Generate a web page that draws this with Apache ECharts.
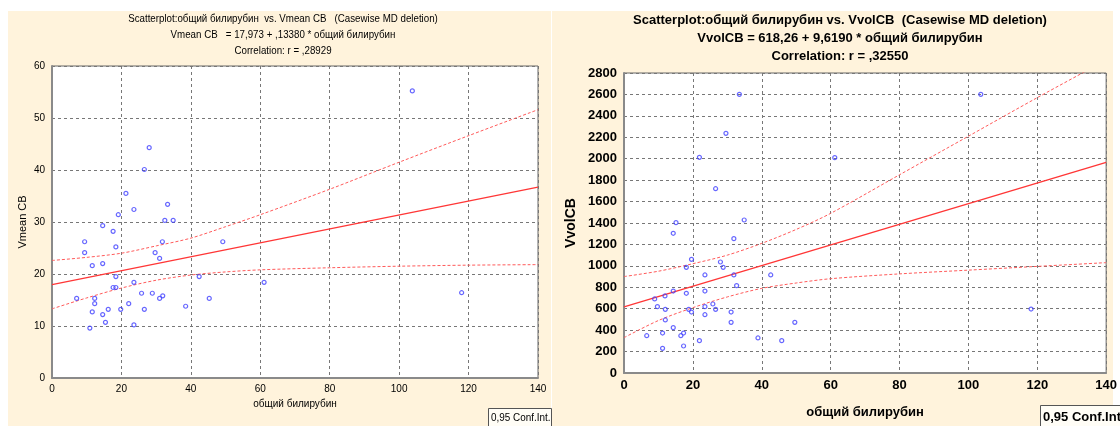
<!DOCTYPE html>
<html>
<head>
<meta charset="utf-8">
<title>Scatterplot общий билирубин</title>
<script src="https://cdn.jsdelivr.net/npm/echarts@6/dist/echarts.min.js"></script>
<style>
    html, body { margin: 0; padding: 0; background: #ffffff; }
    #main { width: 1120px; height: 426px; }
</style>
</head>
<body>
<div id="main"></div>
<script>
// общий билирубин vs Vmean CB (left picture)
var leftX = [28.0, 26.6, 21.3, 23.6, 33.3, 19.1, 32.5, 34.9, 14.6, 17.6, 9.4, 49.2, 31.8, 18.4, 9.4,
    29.7, 31.0, 11.6, 14.6, 18.4, 42.4, 23.6, 61.1, 17.6, 18.4, 7.1, 12.3, 25.8, 28.9, 31.0,
    31.9, 45.3, 12.3, 22.1, 38.5, 11.6, 16.2, 19.8, 26.6, 14.6, 15.4, 23.6, 10.9, 103.8, 118.0];
var leftY = [44.3, 40.1, 35.5, 32.4, 33.4, 31.4, 30.3, 30.3, 29.3, 28.2, 26.2, 26.2, 26.2, 25.2, 24.1,
    24.1, 23.0, 21.6, 22.0, 19.5, 19.5, 18.4, 18.4, 17.4, 17.4, 15.3, 15.3, 16.3, 16.3, 15.3,
    15.8, 15.3, 14.3, 14.3, 13.8, 12.7, 13.2, 13.2, 13.2, 12.2, 10.7, 10.2, 9.6, 55.2, 16.4];

// общий билирубин vs VvolCB (right picture)
var rightX = [33.5, 29.6, 21.9, 26.6, 34.9, 15.1, 14.3, 31.9, 19.6, 28.0, 18.1, 28.8, 23.5, 31.9, 42.6,
    32.7, 14.3, 23.5, 18.1, 11.9, 8.9, 25.8, 9.7, 23.5, 12.0, 18.8, 26.6, 19.6, 31.1, 23.5,
    12.0, 31.1, 49.6, 14.3, 11.2, 17.3, 6.6, 16.5, 38.9, 21.9, 45.8, 17.3, 11.2, 61.2, 103.6, 118.2];
var rightY = [2601, 2237, 2013, 1720, 1428, 1403, 1304, 1254, 1061, 1036, 986, 986, 915, 915, 915,
    815, 765, 765, 744, 719, 691, 644, 619, 619, 594, 594, 594, 569, 569, 544,
    495, 473, 473, 423, 373, 373, 348, 348, 327, 302, 302, 252, 230, 2010, 2601, 597];

// линии регрессии и 0,95 доверительные границы
var fitX = [0, 140];
var leftFit = [17.97, 36.70];
var rightFit = [618.3, 1965.0];
var bandX = [0, 10, 20, 30, 40, 50, 60, 80, 100, 120, 140];
var leftUpper = [22.6, 23.2, 24.0, 25.4, 26.9, 29.1, 31.4, 36.3, 41.5, 46.6, 51.6];
var leftLower = [13.3, 15.4, 17.3, 18.8, 19.8, 20.4, 20.8, 21.2, 21.5, 21.7, 21.8];
var rightUpper = [900, 950, 1020, 1100, 1210, 1340, 1490, 1850, 2210, 2570, 2920];
var rightLower = [330, 490, 610, 710, 790, 840, 880, 925, 960, 995, 1030];

// подписи
var leftTitles = ['Scatterplot:общий билирубин  vs. Vmean CB   (Casewise MD deletion)',
    'Vmean CB   = 17,973 + ,13380 * общий билирубин',
    'Correlation: r = ,28929'];
var rightTitles = ['Scatterplot:общий билирубин vs. VvolCB  (Casewise MD deletion)',
    'VvolCB = 618,26 + 9,6190 * общий билирубин',
    'Correlation: r = ,32550'];

var cream = '#fff3dc';
var thinFont = '"Liberation Sans", Arial, sans-serif';
var boldFont = '"Liberation Sans", Arial, sans-serif';

var dom = document.getElementById('main');
var myChart = echarts.init(dom);

function zip(xs, ys) {
    var res = [];
    for (var i = 0; i < xs.length; i++) {
        res.push([xs[i], ys[i]]);
    }
    return res;
}

function xAxisOp(gridIndex, font, size, weight, nameGap) {
    return {
        gridIndex: gridIndex,
        type: 'value',
        min: 0,
        max: 140,
        interval: 20,
        name: 'общий билирубин',
        nameLocation: 'middle',
        nameGap: nameGap,
        nameTextStyle: {color: '#000', fontFamily: font, fontSize: size, fontWeight: weight},
        axisLine: {show: true, lineStyle: {color: '#8a8a8a', width: 2}},
        axisTick: {show: false},
        axisLabel: {color: '#000', fontFamily: font, fontSize: size, fontWeight: weight, margin: 6},
        splitLine: {show: true, lineStyle: {color: '#777', type: [3, 3], width: 1}}
    };
}

function yAxisOp(gridIndex, max, interval, name, font, size, weight, nameGap) {
    return {
        gridIndex: gridIndex,
        type: 'value',
        min: 0,
        max: max,
        interval: interval,
        name: name,
        nameLocation: 'middle',
        nameGap: nameGap,
        nameRotate: 90,
        nameTextStyle: {color: '#000', fontFamily: font, fontSize: size + 1, fontWeight: weight},
        axisLine: {show: true, lineStyle: {color: '#8a8a8a', width: 2}},
        axisTick: {show: false},
        axisLabel: {
            color: '#000', fontFamily: font, fontSize: size, fontWeight: weight, margin: 7,
            //без разделителя тысяч
            formatter: function (v) {
                return String(v);
            }
        },
        splitLine: {show: true, lineStyle: {color: '#777', type: [3, 3], width: 1}}
    };
}

function pointsOp(idx, xs, ys) {
    return {
        type: 'scatter',
        xAxisIndex: idx,
        yAxisIndex: idx,
        symbol: 'circle',
        symbolSize: 4,
        itemStyle: {color: 'rgba(255,255,255,0)', borderColor: '#4040ff', borderWidth: 1.2},
        data: zip(xs, ys),
        z: 5
    };
}

function lineOp(idx, xs, ys, dashed) {
    return {
        type: 'line',
        xAxisIndex: idx,
        yAxisIndex: idx,
        showSymbol: false,
        smooth: dashed ? 0.3 : false,
        clip: true,
        lineStyle: dashed ? {color: '#ff5a5a', width: 1, type: [3, 2]} : {color: '#ff3636', width: 1.3},
        data: zip(xs, ys),
        z: 4
    };
}

function titleTexts(lines, cx, ys, font, size, weight, sx) {
    var res = [];
    for (var i = 0; i < lines.length; i++) {
        res.push({
            type: 'text',
            x: cx,
            y: ys[i],
            scaleX: sx,
            style: {
                text: lines[i], fill: '#000', font: weight + ' ' + size + 'px ' + font,
                align: 'center', verticalAlign: 'middle'
            }
        });
    }
    return res;
}

var graphics = [
    // фоновые панели
    {type: 'rect', shape: {x: 8, y: 11, width: 543, height: 415}, style: {fill: cream}, z: -10},
    {type: 'rect', shape: {x: 552, y: 11, width: 561, height: 415}, style: {fill: cream}, z: -10},
    // рамки 0,95 Conf.Int.
    {type: 'rect', shape: {x: 488.5, y: 408.5, width: 63, height: 20}, style: {fill: '#fffdf6', stroke: '#555', lineWidth: 1}},
    {type: 'text', x: 491, y: 418, scaleX: 0.9, style: {text: '0,95 Conf.Int.', fill: '#000', font: '11px ' + thinFont, verticalAlign: 'middle'}},
    {type: 'rect', shape: {x: 1040.5, y: 405.5, width: 90, height: 24}, style: {fill: '#fffdf6', stroke: '#555', lineWidth: 1}},
    {type: 'text', x: 1043, y: 417, style: {text: '0,95 Conf.Int.', fill: '#000', font: 'bold 13px ' + boldFont, verticalAlign: 'middle'}}
];
graphics = graphics.concat(titleTexts(leftTitles, 283, [19, 35, 51], thinFont, 11, 'normal', 0.885));
graphics = graphics.concat(titleTexts(rightTitles, 840, [20, 38, 56], boldFont, 13, 'bold', 1));

var option = {
    backgroundColor: '#ffffff',
    animation: false,
    grid: [
        {left: 52, top: 66, width: 486, height: 312, show: true, backgroundColor: '#ffffff', borderColor: '#666', borderWidth: 1},
        {left: 624, top: 73, width: 483, height: 300, show: true, backgroundColor: '#ffffff', borderColor: '#666', borderWidth: 1}
    ],
    xAxis: [
        xAxisOp(0, thinFont, 10, 'normal', 20),
        xAxisOp(1, boldFont, 13, 'bold', 33)
    ],
    yAxis: [
        yAxisOp(0, 60, 10, 'Vmean CB', thinFont, 10, 'normal', 24),
        yAxisOp(1, 2800, 200, 'VvolCB', boldFont, 13, 'bold', 46)
    ],
    graphic: graphics,
    series: [
        pointsOp(0, leftX, leftY),
        lineOp(0, fitX, leftFit, false),
        lineOp(0, bandX, leftUpper, true),
        lineOp(0, bandX, leftLower, true),
        pointsOp(1, rightX, rightY),
        lineOp(1, fitX, rightFit, false),
        lineOp(1, bandX, rightUpper, true),
        lineOp(1, bandX, rightLower, true)
    ]
};

myChart.setOption(option);
</script>
</body>
</html>
